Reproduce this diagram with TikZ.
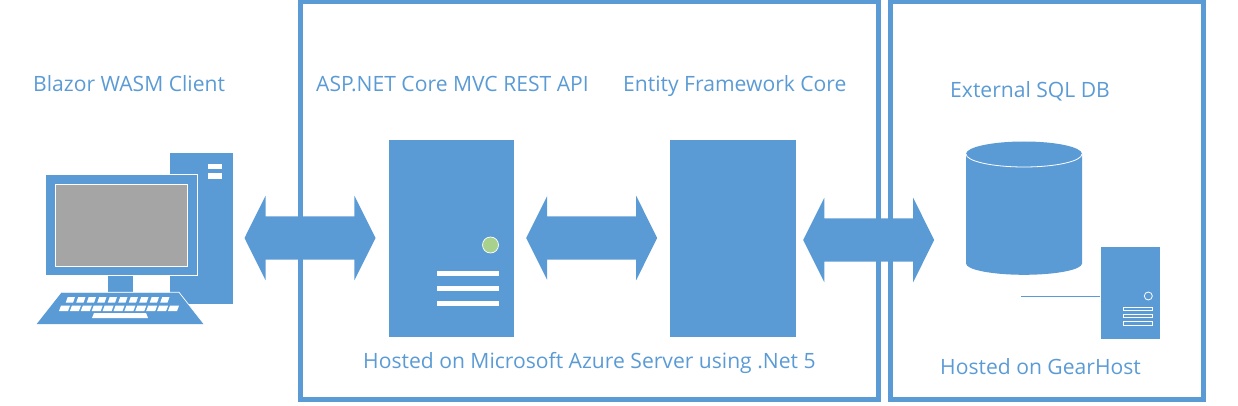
\documentclass[tikz,border=0pt]{standalone}
\usepackage{fontspec}
\usepackage{xcolor}
\setmainfont{Open Sans}
\usetikzlibrary{positioning, shapes.geometric, shapes.arrows}
\definecolor{azureblue}{HTML}{5B9BD5}
\definecolor{screengray}{HTML}{A5A5A5}
\definecolor{ledgreen}{HTML}{A9D18E}
\tikzset{
  caption/.style={text=azureblue, font=\fontsize{21.1pt}{24pt}\selectfont, inner sep=0pt, anchor=base west},
  hostbox/.style={draw=azureblue, line width=4.8pt},
  towerbox/.style={fill=azureblue, draw=none, inner sep=0pt, minimum height=197pt},
  dbl/.style={fill=azureblue, draw=none, shape=double arrow, inner xsep=0pt, inner ysep=21.5pt, minimum height=131pt,
    double arrow head extend=20.5pt, double arrow tip angle=127},
  slot/.style={fill=white, draw=none}
}
\begin{document}
\begin{tikzpicture}[x=1pt, y=-1pt]
  \useasboundingbox (0,0) rectangle (1238,406);

  % hosting frames
  \draw[hostbox] (300.5,1.5) rectangle (878.5,399.5);
  \draw[hostbox] (890.5,1.5) rectangle (1203.5,399.5);

  % servers
  \node[towerbox, minimum width=125pt] (api) at (451.5,238.5) {};
  \node[towerbox, minimum width=126pt] (ef) at (733,238.5) {};
  \fill[ledgreen, draw=white, line width=0.7pt] (490.5,245) circle (8pt);
  \foreach \yy in {273,288,303}
    \fill[slot] (436.5,\yy-2.5) rectangle (498.5,\yy+2.5);

  % arrows
  \node[dbl] (clientapi) at (310,238) {};
  \node[dbl] (apief) at (591.7,238) {};
  \node[dbl] (efdb) at (868.7,240) {};

  % client computer
  \fill[azureblue] (170,153) rectangle (233,304);
  \fill[slot] (208,164) rectangle (222,169.5);
  \fill[slot] (208,173) rectangle (222,179);
  \fill[azureblue, draw=white, line width=0.7pt] (45.5,174.5) rectangle (197.5,275.5);
  \fill[screengray, draw=white, line width=0.7pt] (55.5,184.5) rectangle (187.5,266.5);
  \fill[azureblue] (108,276) rectangle (133,292);
  \fill[azureblue] (61.7,292.3) -- (179,292.3) -- (204,324) -- (36.7,324) -- cycle;
  \draw[white, line width=0.7pt] (61.7,292.3) -- (179,292.3) -- (204,324);
  \foreach \xx in {0,...,9}
    \fill[slot] ({67.7+10.5*\xx},297) -- ({75+10.5*\xx},297) -- ({73+10.5*\xx},302.7) -- ({65.7+10.5*\xx},302.7) -- cycle;
  \foreach \xx in {0,...,10}
    \fill[slot] ({61+10.9*\xx},305.7) -- ({70+10.9*\xx},305.7) -- ({68+10.9*\xx},311) -- ({59+10.9*\xx},311) -- cycle;
  \fill[slot] (94,313) -- (146,313) -- (148,318) -- (92,318) -- cycle;

  % database
  \fill[azureblue] (966,154) -- (966,263.5) arc[start angle=180, end angle=360, x radius=58, y radius=-11.3] -- (1082,154) -- cycle;
  \fill[azureblue] (1024,154) ellipse (58pt and 12.5pt);
  \draw[white, line width=0.8pt] (966,154) arc[start angle=180, end angle=360, x radius=58, y radius=-13];
  \draw[azureblue, line width=0.8pt] (1021,296) -- (1100,296);

  % gearhost box
  \fill[azureblue] (1101,247) rectangle (1160,339);
  \draw[white, line width=0.8pt] (1148.3,296) circle (4pt);
  \foreach \yy in {309,316,323.5}
    \draw[white, line width=0.8pt] (1123.5,\yy-1.7) rectangle (1152.5,\yy+1.7);

  % labels
  \node[caption] (clientlbl) at (33,91.5) {Blazor WASM Client};
  \node[caption] (apilbl) at (316,91.5) {ASP.NET Core MVC REST API};
  \node[caption] (eflbl) at (623,91.5) {Entity Framework Core};
  \node[caption] (dblbl) at (950,98) {External SQL DB};
  \node[caption] (azurelbl) at (363,368) {Hosted on Microsoft Azure Server using .Net 5};
  \node[caption] (gearlbl) at (940,374) {Hosted on GearHost};
\end{tikzpicture}
\end{document}
